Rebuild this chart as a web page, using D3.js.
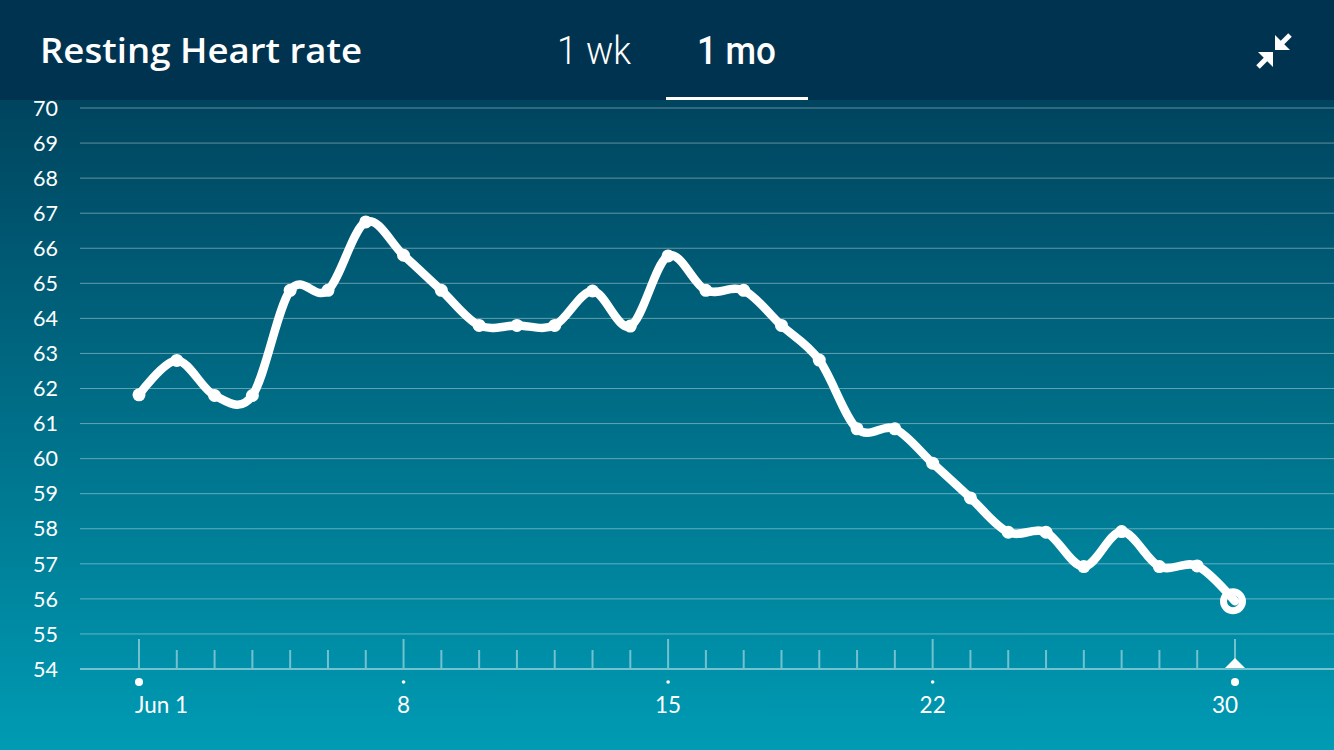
<!DOCTYPE html>
<html>
<head>
<meta charset="utf-8">
<script src="https://cdn.jsdelivr.net/npm/d3@7"></script>
<style>
  html, body { margin: 0; padding: 0; background: #00334f; }
  svg { display: block; }
</style>
</head>
<body>
<svg width="1334" height="750"></svg>
<script>

// one month of resting heart rate, day of June -> bpm
var days = [1, 2, 3, 4, 5, 6, 7, 8, 9, 10, 11, 12, 13, 14, 15,
            16, 17, 18, 19, 20, 21, 22, 23, 24, 25, 26, 27, 28, 29, 30];
var rhr = [61.82, 62.8, 61.8, 61.8, 64.8, 64.8, 66.75, 65.8, 64.8, 63.8,
           63.8, 63.8, 64.78, 63.78, 65.78, 64.8, 64.8, 63.8, 62.81, 60.85,
           60.85, 59.87, 58.88, 57.9, 57.9, 56.92, 57.92, 56.92, 56.94, 55.93];

var yTicks = [54, 55, 56, 57, 58, 59, 60, 61, 62, 63, 64, 65, 66, 67, 68, 69, 70];
var majorDays = [1, 8, 15, 22, 30];
var dayLabels = ["Jun 1", "8", "15", "22", "30"];
var tabs = ["1 wk", "1 mo"];

var svg = d3.select("svg"),
    width = +svg.attr("width"),
    height = +svg.attr("height");

var x = d3.scaleLinear().domain([1, 30]).range([139, 1235]);
var y = d3.scaleLinear().domain([54, 70]).range([669, 108]);

var data = days.map(function(d, i) { return {day: d, v: rhr[i]}; });

// background gradient
var grad = svg.append("defs").append("linearGradient")
    .attr("id", "bg")
    .attr("gradientUnits", "userSpaceOnUse")
    .attr("x1", 0).attr("y1", 100)
    .attr("x2", 0).attr("y2", 750);
grad.append("stop").attr("offset", "0%").attr("stop-color", "#00445e");
grad.append("stop").attr("offset", "100%").attr("stop-color", "#009bb4");

svg.append("rect")
    .attr("x", 0).attr("y", 100)
    .attr("width", width).attr("height", height - 100)
    .attr("fill", "url(#bg)");

// header
svg.append("rect")
    .attr("x", 0).attr("y", 0)
    .attr("width", width).attr("height", 100)
    .attr("fill", "#00334f");

svg.append("text")
    .attr("x", 40).attr("y", 63)
    .attr("font-family", "'Open Sans', Lato, sans-serif")
    .attr("font-weight", 600)
    .attr("font-size", 35)
    .attr("textLength", 322)
    .attr("lengthAdjust", "spacingAndGlyphs")
    .style("font-variant-ligatures", "none")
    .attr("fill", "#fff")
    .text("Resting Heart rate");

var tabX = [557, 697], tabW = [74, 79];
svg.selectAll(".tab")
    .data(tabs)
    .enter().append("text")
    .attr("class", "tab")
    .attr("x", function(d, i) { return tabX[i]; })
    .attr("y", 64)
    .attr("font-family", "Roboto, sans-serif")
    .attr("font-weight", function(d, i) { return i == 1 ? 500 : 300; })
    .attr("font-size", 38)
    .attr("textLength", function(d, i) { return tabW[i]; })
    .attr("lengthAdjust", "spacingAndGlyphs")
    .attr("fill", "#fff")
    .text(function(d) { return d; });

svg.append("rect")
    .attr("x", 666).attr("y", 97)
    .attr("width", 142).attr("height", 3)
    .attr("fill", "#fff");

// collapse icon (two arrows pointing inward)
var icon = svg.append("g").attr("fill", "#fff").attr("stroke", "#fff");
icon.append("path")
    .attr("stroke", "none")
    .attr("d", "M1275,35L1275,50L1290,50Z");
icon.append("line")
    .attr("x1", 1280).attr("y1", 45).attr("x2", 1290).attr("y2", 35)
    .attr("stroke-width", 5);
icon.append("path")
    .attr("stroke", "none")
    .attr("d", "M1258,52L1273,52L1273,67Z");
icon.append("line")
    .attr("x1", 1267).attr("y1", 58).attr("x2", 1258).attr("y2", 67)
    .attr("stroke-width", 5);

// gridlines + y labels
svg.append("g")
    .selectAll("line")
    .data(yTicks)
    .enter().append("line")
    .attr("x1", 80).attr("x2", width)
    .attr("y1", function(d) { return y(d); })
    .attr("y2", function(d) { return y(d); })
    .attr("stroke", "#fff")
    .attr("stroke-opacity", function(d) { return d == 54 ? 0.45 : 0.38; })
    .attr("stroke-width", function(d) { return d == 54 ? 2 : 1; });

svg.append("g")
    .selectAll("text")
    .data(yTicks)
    .enter().append("text")
    .attr("x", 58)
    .attr("y", function(d) { return y(d); })
    .attr("dy", "0.36em")
    .attr("text-anchor", "end")
    .attr("font-family", "Lato, 'Open Sans', sans-serif")
    .attr("font-size", 21.5)
    .attr("fill", "#fff")
    .text(function(d) { return d; });

// day ticks
svg.append("g")
    .selectAll("line")
    .data(days)
    .enter().append("line")
    .attr("x1", function(d) { return x(d); })
    .attr("x2", function(d) { return x(d); })
    .attr("y1", function(d) { return majorDays.indexOf(d) >= 0 ? 639 : 650; })
    .attr("y2", 668)
    .attr("stroke", "#fff")
    .attr("stroke-opacity", 0.45)
    .attr("stroke-width", 2);

svg.append("g")
    .selectAll("circle")
    .data(majorDays)
    .enter().append("circle")
    .attr("cx", function(d) { return x(d); })
    .attr("cy", 682)
    .attr("r", function(d) { return (d == 1 || d == 30) ? 4 : 1.8; })
    .attr("fill", "#fff");

svg.append("g")
    .selectAll("text")
    .data(majorDays)
    .enter().append("text")
    .attr("x", function(d, i) {
      if (i == 0) return x(d) - 4;
      if (i == majorDays.length - 1) return x(d) + 3;
      return x(d);
    })
    .attr("y", 713)
    .attr("text-anchor", function(d, i) {
      if (i == 0) return "start";
      if (i == majorDays.length - 1) return "end";
      return "middle";
    })
    .attr("font-family", "Lato, 'Open Sans', sans-serif")
    .attr("font-size", 22.5)
    .attr("fill", "#fff")
    .text(function(d, i) { return dayLabels[i]; });

// selected-day marker
svg.append("path")
    .attr("d", "M" + (x(30) - 10) + ",668L" + x(30) + ",658L" + (x(30) + 10) + ",668Z")
    .attr("fill", "#fff");

// the line
var line = d3.line()
    .x(function(d) { return x(d.day); })
    .y(function(d) { return y(d.v); })
    .curve(d3.curveCardinal.tension(0));

svg.append("path")
    .datum(data)
    .attr("d", line)
    .attr("fill", "none")
    .attr("stroke", "#fff")
    .attr("stroke-width", 8.5)
    .attr("stroke-linecap", "round")
    .attr("stroke-linejoin", "round");

svg.append("g")
    .selectAll("circle")
    .data(data.slice(0, data.length - 1))
    .enter().append("circle")
    .attr("cx", function(d) { return x(d.day); })
    .attr("cy", function(d) { return y(d.v); })
    .attr("r", 6.5)
    .attr("fill", "#fff");

var last = data[data.length - 1];
svg.append("circle")
    .attr("cx", x(last.day) - 2)
    .attr("cy", y(last.v))
    .attr("r", 9.5)
    .attr("fill", "none")
    .attr("stroke", "#fff")
    .attr("stroke-width", 7);

</script>
</body>
</html>
